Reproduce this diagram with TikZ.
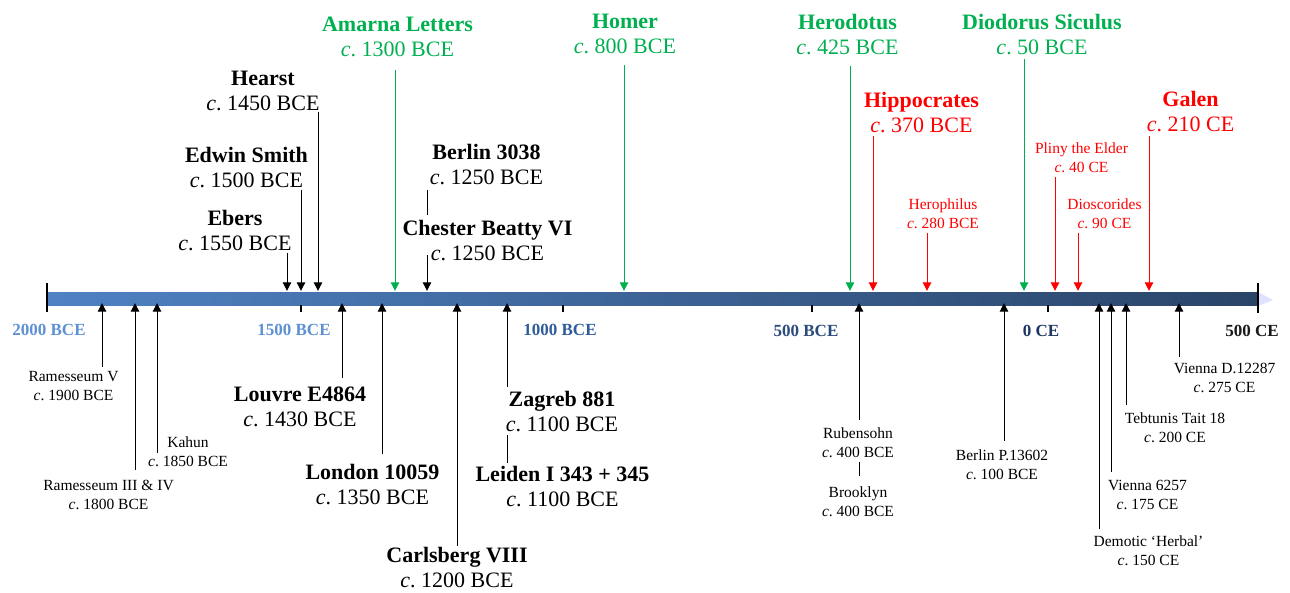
\documentclass[tikz,border=0pt]{standalone}
\usepackage{fontspec}
\setmainfont{Liberation Serif}
\usepackage{tikz}
\usetikzlibrary{arrows.meta,positioning}

\definecolor{grn}{HTML}{00B050}
\definecolor{rd}{HTML}{FF0000}
\definecolor{axA}{HTML}{5E90D4}
\definecolor{axB}{HTML}{2E5C9A}
\definecolor{axC}{HTML}{2B4B7C}
\definecolor{axD}{HTML}{1C3563}
\definecolor{barL}{HTML}{4F82C4}
\definecolor{barR}{HTML}{2A4468}

\newcommand{\circa}[1]{\textit{c}.~#1}

\begin{document}
\begin{tikzpicture}[
  x=1pt, y=-1pt,
  big/.style={align=center,inner sep=0pt,font=\fontsize{22}{25}\selectfont},
  small/.style={align=center,inner sep=0pt,font=\fontsize{15.5}{19}\selectfont},
  axlab/.style={inner sep=0pt,font=\fontsize{17}{20}\selectfont\bfseries},
  dn/.style={-{Triangle[width=8.5pt,length=8.5pt]},line width=1pt,shorten >=1pt},
  up/.style={-{Triangle[width=8.5pt,length=8.5pt]},line width=1pt,shorten >=-2pt},
  link/.style={line width=1pt},
  tick/.style={line width=1.2pt},
]
  \useasboundingbox (0,0) rectangle (1290,592);

  % Time bar
  \fill[blue!12] (1258,292) -- (1273,300) -- (1258,306) -- cycle;
  \node[left color=barL,right color=barR,minimum width=1211pt,minimum height=13pt,
        inner sep=0pt] (bar) at (652.5,298.5) {};
  \draw[white,opacity=0.35,line width=1pt] (bar.north west) -- (bar.north east);
  \draw[tick] (47,283) -- (47,312);
  \draw[tick] (1258,283) -- (1258,313);
  \foreach \tx in {301,563,812,1048}
    \draw[tick] (\tx,305) -- (\tx,312);

  % Axis labels
  \node[axlab,axA] (y2000) at (49,330) {2000 BCE};
  \node[axlab,axA] (y1500) at (294,330) {1500 BCE};
  \node[axlab,axB] (y1000) at (560,330) {1000 BCE};
  \node[axlab,axC] (y500b) at (806,331) {500 BCE};
  \node[axlab,axD] (y0)    at (1041,331) {0 CE};
  \node[axlab,black!90] (y500c) at (1252,331) {500 CE};

  % Papyri above the bar
  \node[big] (ebers) at (235,231) {\textbf{Ebers}\\\circa{1550 BCE}};
  \node[big] (smith) at (246.5,167.5) {\textbf{Edwin Smith}\\\circa{1500 BCE}};
  \node[big] (hearst) at (263,90.5) {\textbf{Hearst}\\\circa{1450 BCE}};
  \node[big] (b3038) at (486.5,165) {\textbf{Berlin 3038}\\\circa{1250 BCE}};
  \node[big] (chester) at (487.5,240.5) {\textbf{Chester Beatty VI}\\\circa{1250 BCE}};
  \coordinate (ebersA) at (287,253);
  \coordinate (smithA) at (301,190);
  \coordinate (hearstA) at (318,112);
  \coordinate (b3038A) at (427,190);
  \coordinate (b3038B) at (427,215);
  \coordinate (chesterA) at (427,255);
  \draw[dn] (ebersA) -- (ebersA |- bar.north);
  \draw[dn] (smithA) -- (smithA |- bar.north);
  \draw[dn] (hearstA) -- (hearstA |- bar.north);
  \draw[link] (b3038A) -- (b3038B);
  \draw[dn] (chesterA) -- (chesterA |- bar.north);

  % Other sources (green)
  \node[big,grn] (amarna) at (397.5,36.5) {\textbf{Amarna Letters}\\\circa{1300 BCE}};
  \node[big,grn] (homer) at (625,34) {\textbf{Homer}\\\circa{800 BCE}};
  \node[big,grn] (herodot) at (847.5,35) {\textbf{Herodotus}\\\circa{425 BCE}};
  \node[big,grn] (diodor) at (1042,35) {\textbf{Diodorus Siculus}\\\circa{50 BCE}};
  \coordinate (amarnaA) at (395,70);
  \coordinate (homerA) at (624,65);
  \coordinate (herodotA) at (850,66);
  \coordinate (diodorA) at (1024,59);
  \draw[dn,grn] (amarnaA) -- (amarnaA |- bar.north);
  \draw[dn,grn] (homerA) -- (homerA |- bar.north);
  \draw[dn,grn] (herodotA) -- (herodotA |- bar.north);
  \draw[dn,grn] (diodorA) -- (diodorA |- bar.north);

  % Greek and Roman physicians (red)
  \node[big,rd] (hippo) at (921.5,113) {\textbf{Hippocrates}\\\circa{370 BCE}};
  \node[small,rd] (heroph) at (943,213.5) {Herophilus\\\circa{280 BCE}};
  \node[small,rd] (pliny) at (1081.5,157.5) {Pliny the Elder\\\circa{40 CE}};
  \node[small,rd] (diosc) at (1104.5,213.5) {Dioscorides\\\circa{90 CE}};
  \node[big,rd] (galen) at (1190.5,111.5) {\textbf{Galen}\\\circa{210 CE}};
  \coordinate (hippoA) at (873,136);
  \coordinate (herophA) at (927,233);
  \coordinate (plinyA) at (1055,177);
  \coordinate (dioscA) at (1078,233);
  \coordinate (galenA) at (1149,136);
  \draw[dn,rd] (hippoA) -- (hippoA |- bar.north);
  \draw[dn,rd] (herophA) -- (herophA |- bar.north);
  \draw[dn,rd] (plinyA) -- (plinyA |- bar.north);
  \draw[dn,rd] (dioscA) -- (dioscA |- bar.north);
  \draw[dn,rd] (galenA) -- (galenA |- bar.north);

  % Papyri below the bar (left)
  \node[small] (ram5) at (73.5,386.5) {Ramesseum V\\\circa{1900 BCE}};
  \node[small] (ram34) at (108.5,495) {Ramesseum III \& IV\\\circa{1800 BCE}};
  \node[small] (kahun) at (188,451.5) {Kahun\\\circa{1850 BCE}};
  \node[big] (louvre) at (300,406.5) {\textbf{Louvre E4864}\\\circa{1430 BCE}};
  \node[big] (london) at (372.5,484.5) {\textbf{London 10059}\\\circa{1350 BCE}};
  \node[big] (carls) at (457,567.5) {\textbf{Carlsberg VIII}\\\circa{1200 BCE}};
  \node[big] (zagreb) at (562,411.5) {\textbf{Zagreb 881}\\\circa{1100 BCE}};
  \node[big] (leiden) at (562.5,486.5) {\textbf{Leiden I 343 + 345}\\\circa{1100 BCE}};
  \coordinate (ram5A) at (102,367);
  \coordinate (ram34A) at (135,470);
  \coordinate (kahunA) at (157,453);
  \coordinate (louvreA) at (342,378);
  \coordinate (londonA) at (382,454);
  \coordinate (carlsA) at (457,546);
  \coordinate (zagrebA) at (507,387);
  \coordinate (zagrebB) at (507,435);
  \coordinate (zagrebC) at (507,463);
  \draw[up] (ram5A) -- (ram5A |- bar.south);
  \draw[up] (ram34A) -- (ram34A |- bar.south);
  \draw[up] (kahunA) -- (kahunA |- bar.south);
  \draw[up] (louvreA) -- (louvreA |- bar.south);
  \draw[up] (londonA) -- (londonA |- bar.south);
  \draw[up] (carlsA) -- (carlsA |- bar.south);
  \draw[up] (zagrebA) -- (zagrebA |- bar.south);
  \draw[link] (zagrebB) -- (zagrebC);

  % Papyri below the bar (right)
  \node[small] (ruben) at (858,442.5) {Rubensohn\\\circa{400 BCE}};
  \node[small] (brook) at (858,502) {Brooklyn\\\circa{400 BCE}};
  \node[small] (b13602) at (1002,465) {Berlin P.13602\\\circa{100 BCE}};
  \node[small] (demotic) at (1148.5,550.5) {Demotic `Herbal'\\\circa{150 CE}};
  \node[small] (v6257) at (1147.5,495) {Vienna 6257\\\circa{175 CE}};
  \node[small] (tebt) at (1175,428) {Tebtunis Tait 18\\\circa{200 CE}};
  \node[small] (v12287) at (1224.5,378) {Vienna D.12287\\\circa{275 CE}};
  \coordinate (rubenA) at (859,420);
  \coordinate (rubenB) at (859,462);
  \coordinate (rubenC) at (859,476);
  \coordinate (b13602A) at (1004,441);
  \coordinate (demoticA) at (1099,529);
  \coordinate (v6257A) at (1111,472);
  \coordinate (tebtA) at (1126,405);
  \coordinate (v12287A) at (1179,357);
  \draw[up] (rubenA) -- (rubenA |- bar.south);
  \draw[link] (rubenB) -- (rubenC);
  \draw[up] (b13602A) -- (b13602A |- bar.south);
  \draw[up] (demoticA) -- (demoticA |- bar.south);
  \draw[up] (v6257A) -- (v6257A |- bar.south);
  \draw[up] (tebtA) -- (tebtA |- bar.south);
  \draw[up] (v12287A) -- (v12287A |- bar.south);
\end{tikzpicture}
\end{document}
